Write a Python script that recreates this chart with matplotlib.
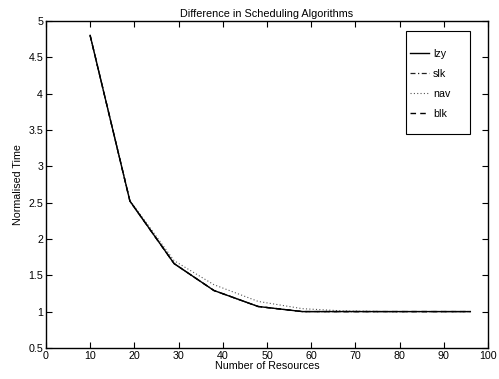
import matplotlib
matplotlib.use("Agg")
import matplotlib.pyplot as plt
from matplotlib.patches import Rectangle

x = [10, 19, 29, 38, 48, 58, 67, 77, 86, 96]
lzy = [4.8, 2.52, 1.66, 1.29, 1.07, 1.0, 1.0, 1.0, 1.0, 1.0]
slk = [4.8, 2.52, 1.66, 1.29, 1.07, 1.0, 1.0, 1.0, 1.0, 1.0]
nav = [4.8, 2.53, 1.70, 1.37, 1.14, 1.04, 1.01, 1.0, 1.0, 1.0]
blk = [4.8, 2.52, 1.66, 1.29, 1.07, 1.0, 1.0, 1.0, 1.0, 1.0]

plt.rcParams['font.family'] = ['Liberation Sans', 'DejaVu Sans']
plt.rcParams['font.size'] = 7.7

fig = plt.figure(figsize=(4.99, 3.79), dpi=100)
ax = fig.add_axes([0.092, 0.082, 0.886, 0.863])

ax.plot(x, nav, color='#555555', linestyle=(0, (1, 2)), linewidth=0.8, label='nav')
ax.plot(x, slk, color='#222222', linestyle=(0, (4, 2, 1, 2)), linewidth=0.9, label='slk')
ax.plot(x, blk, color='black', linestyle=(0, (4, 3)), linewidth=1.0, label='blk')
ax.plot(x, lzy, color='black', linestyle='-', linewidth=1.0, label='lzy')

ax.set_xlim(0, 100)
ax.set_ylim(0.5, 5)
ax.set_xticks(range(0, 101, 10))
ax.set_yticks([0.5, 1, 1.5, 2, 2.5, 3, 3.5, 4, 4.5, 5])
ax.set_yticklabels(['0.5', '1', '1.5', '2', '2.5', '3', '3.5', '4', '4.5', '5'])
ax.tick_params(direction='in', top=True, right=True, length=4, width=0.8, pad=2)
for s in ax.spines.values():
    s.set_linewidth(1.0)

ax.set_title('Difference in Scheduling Algorithms', fontsize=7.8, pad=3)
ax.set_xlabel('Number of Resources', labelpad=0)
ax.set_ylabel('Normalised Time', labelpad=4)

# legend frame (MATLAB-style box)
fig.patches.append(Rectangle((405.7 / 499, 1 - 134 / 379), (470 - 405.7) / 499,
                             (134 - 30.7) / 379, transform=fig.transFigure,
                             facecolor='white', edgecolor='black', linewidth=0.8,
                             zorder=5))

h, l = ax.get_legend_handles_labels()
order = [l.index(n) for n in ['lzy', 'slk', 'nav', 'blk']]
leg = fig.legend([h[i] for i in order], [l[i] for i in order], loc='upper left',
                 bbox_to_anchor=(410.0 / 499, 1 - 49 / 379), frameon=False,
                 handlelength=1.75, labelspacing=0.93, borderpad=0,
                 handletextpad=0.4, borderaxespad=0)
leg.set_zorder(6)

fig.savefig('out.png', dpi=100)
